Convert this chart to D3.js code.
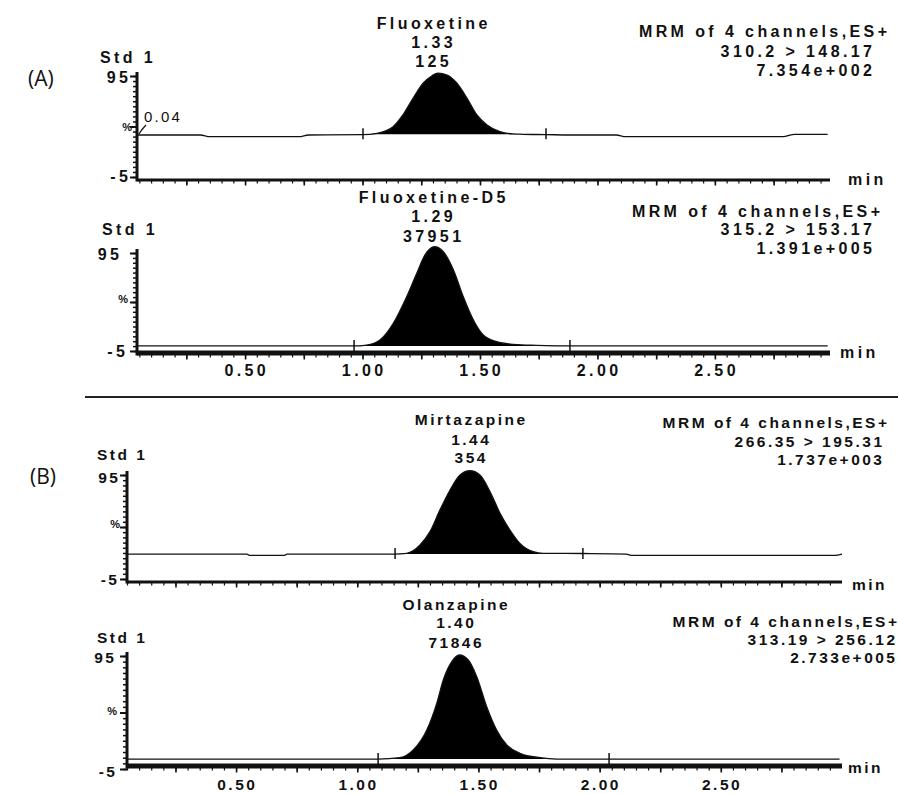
<!DOCTYPE html>
<html><head><meta charset="utf-8">
<script src="https://cdn.jsdelivr.net/npm/d3@7"></script>
<style>body{margin:0;background:#fff}svg{display:block}</style>
</head><body>
<svg id="c" width="898" height="794"></svg>
<script>
// ---------------- DATA ----------------
const compounds   = ["Fluoxetine", "Fluoxetine-D5", "Mirtazapine", "Olanzapine"];
const peakRT      = ["1.33", "1.29", "1.44", "1.40"];
const peakArea    = ["125", "37951", "354", "71846"];
const headerText  = "MRM of 4 channels,ES+";
const transitions = ["310.2 > 148.17", "315.2 > 153.17", "266.35 > 195.31", "313.19 > 256.12"];
const maxIntens   = ["7.354e+002", "1.391e+005", "1.737e+003", "2.733e+005"];
const sampleLabel = "Std 1";
const sectionLabels = ["(A)", "(B)"];
const xTickLabels = ["0.50", "1.00", "1.50", "2.00", "2.50"];
const yTickLabels = ["95", "%", "-5"];
const yTickValues = [95, 45, -5];
const xDomainA = [0.04, 2.99];
const xDomainB = [0.05, 3.00];
const yDomain  = [-5, 95];

// chromatogram traces (time in min, relative intensity %)
const fluoxTime = [0.04, 0.31, 0.35, 0.73, 0.77, 1.00, 1.062, 1.130, 1.172, 1.215, 1.258, 1.296, 1.321, 1.360, 1.402, 1.445, 1.487, 1.530, 1.585, 1.641, 1.683, 1.78, 1.88, 2.08, 2.12, 2.47, 2.50, 2.79, 2.84, 2.98];
const fluoxInt  = [36.6, 36.6, 34.9, 34.9, 36.6, 36.9, 38.3, 44.8, 56.4, 72.9, 87.8, 95.3, 97.7, 96.0, 87.8, 72.9, 56.4, 46.5, 39.9, 37.6, 37.3, 37.0, 36.6, 36.6, 34.9, 34.9, 34.9, 34.9, 37.3, 37.3];

const fluoxD5Time = [0.04, 0.96, 1.018, 1.074, 1.131, 1.188, 1.231, 1.266, 1.306, 1.344, 1.387, 1.429, 1.472, 1.514, 1.571, 1.642, 1.742, 1.90, 2.98];
const fluoxD5Int  = [0.2, 0.2, 1.1, 6.2, 23.3, 50.4, 74.3, 93.0, 101.4, 96.3, 77.7, 50.4, 26.6, 11.3, 4.5, 1.8, 0.8, 0.2, 0.2];

const mirtTime = [0.05, 0.545, 0.555, 0.70, 0.71, 1.156, 1.204, 1.259, 1.300, 1.341, 1.383, 1.424, 1.465, 1.506, 1.548, 1.589, 1.630, 1.671, 1.726, 1.768, 1.93, 2.11, 2.13, 2.97, 3.00];
const mirtInt  = [19.0, 19.0, 17.8, 17.8, 19.0, 19.0, 19.7, 27.7, 40.5, 61.3, 80.6, 95.0, 99.1, 95.0, 78.9, 58.2, 42.1, 29.3, 21.3, 19.7, 19.5, 19.0, 17.8, 17.8, 19.0];

const olanTime = [0.05, 1.086, 1.176, 1.231, 1.287, 1.328, 1.355, 1.390, 1.421, 1.458, 1.493, 1.534, 1.575, 1.617, 1.671, 1.754, 1.823, 2.99];
const olanInt  = [3.8, 3.8, 5.0, 11.8, 29.5, 53.1, 73.8, 90.0, 95.9, 91.5, 76.7, 50.1, 29.5, 16.2, 8.9, 5.0, 3.8, 3.8];

// integration limits (min) and integration baseline level (%)
const integStart = [1.002, 0.964, 1.156, 1.086];
const integEnd   = [1.781, 1.883, 1.931, 2.039];
const integBase  = [37.3, 0.2, 19.0, 3.8];
const startLabel = "0.04";

// ---------------- LAYOUT ----------------
const traces = [
  [fluoxTime, fluoxInt], [fluoxD5Time, fluoxD5Int], [mirtTime, mirtInt], [olanTime, olanInt]
];
const layout = [
  {dom: xDomainA, x0:137, x1:830, yTop:76,  yBot:177, axisY:180, axisW:3, titleX:432, titleY:[29,48,67],    mrmX:[887,872,872], mrmY:[37,57,76],    stdX:100, stdY:63,  lab:[[128,83],[132,131],[128,182]], minX:848, minY:185, xLabY:null, sec:0},
  {dom: xDomainA, x0:137, x1:830, yTop:253, yBot:351, axisY:353, axisW:5, titleX:432, titleY:[203,222,242], mrmX:[880,872,872], mrmY:[217,235,254], stdX:102, stdY:235, lab:[[119,260],[128,303],[125,357]], minX:840, minY:358, xLabY:376, sec:0},
  {dom: xDomainB, x0:127, x1:842, yTop:475, yBot:579, axisY:582, axisW:3, titleX:470, titleY:[425,445,463], mrmX:[887,882,882], mrmY:[428,447,465], stdX:97,  stdY:460, lab:[[118,483],[120,528],[117,585]], minX:852, minY:590, xLabY:null, sec:1},
  {dom: xDomainB, x0:127, x1:842, yTop:656, yBot:769, axisY:766, axisW:5, titleX:455, titleY:[610,628,648], mrmX:[897,895,895], mrmY:[627,645,663], stdX:97,  stdY:643, lab:[[114,663],[117,715],[115,777]], minX:848, minY:773, xLabY:790, sec:1}
];
const fontSec = [{size:16, ls:3.4}, {size:15.5, ls:2.5}];

const svg = d3.select("#c");
svg.append("rect").attr("width", 898).attr("height", 794).attr("fill", "#fff");

function txt(g, x, y, s, anchor, f, extra) {
  const shift = anchor === "end" ? f.ls : anchor === "middle" ? f.ls / 2 : 0;
  const t = g.append("text")
    .attr("x", x + shift).attr("y", y)
    .attr("text-anchor", anchor)
    .attr("font-family", "'Liberation Sans', Arial, sans-serif")
    .attr("font-weight", "bold")
    .attr("font-size", f.size)
    .attr("letter-spacing", f.ls)
    .attr("fill", "#111")
    .text(s);
  if (extra) extra(t);
  return t;
}

layout.forEach((L, i) => {
  const f = fontSec[L.sec];
  const g = svg.append("g");
  const x = d3.scaleLinear().domain(L.dom).range([L.x0, L.x1]);
  const y = d3.scaleLinear().domain(yDomain).range([L.yBot, L.yTop]);
  const pts = traces[i][0].map((t, k) => [t, traces[i][1][k]]);

  // filled peak (clipped to integration window)
  const clipId = "clip" + i;
  svg.append("clipPath").attr("id", clipId).append("rect")
    .attr("x", x(integStart[i])).attr("y", 0)
    .attr("width", x(integEnd[i]) - x(integStart[i])).attr("height", 794);
  const area = d3.area().x(d => x(d[0])).y0(y(integBase[i])).y1(d => y(d[1])).curve(d3.curveMonotoneX);
  g.append("path").attr("d", area(pts)).attr("fill", "#000").attr("clip-path", `url(#${clipId})`);

  // trace line
  const line = d3.line().x(d => x(d[0])).y(d => y(d[1])).curve(d3.curveMonotoneX);
  g.append("path").attr("d", line(pts)).attr("fill", "none").attr("stroke", "#111").attr("stroke-width", 1.3);

  // integration markers
  [integStart[i], integEnd[i]].forEach(t => {
    const yy = y(integBase[i]);
    g.append("line").attr("x1", x(t)).attr("x2", x(t)).attr("y1", yy - 6).attr("y2", yy + 5)
      .attr("stroke", "#111").attr("stroke-width", 1.5);
  });

  // y axis
  const yMinor = d3.range(yDomain[0], yDomain[1] + 1, 5);
  const ya = g.append("g").attr("transform", `translate(${L.x0},0)`)
    .call(d3.axisLeft(y).tickValues(yMinor).tickSize(4).tickFormat(""));
  ya.select(".domain").remove();
  ya.selectAll("line").attr("stroke", "#111").attr("stroke-width", 1.5);
  const yb = g.append("g").attr("transform", `translate(${L.x0},0)`)
    .call(d3.axisLeft(y).tickValues(yTickValues).tickSize(7).tickFormat(""));
  yb.select(".domain").remove();
  yb.selectAll("line").attr("stroke", "#111").attr("stroke-width", 2);
  g.append("line").attr("x1", L.x0).attr("x2", L.x0).attr("y1", L.yTop - 4).attr("y2", L.axisY + L.axisW / 2)
    .attr("stroke", "#111").attr("stroke-width", 3);

  // x axis
  const xMinor = d3.range(0.05, L.dom[1], 0.05).filter(v => v >= L.dom[0]);
  const xMajor = d3.range(0.25, L.dom[1], 0.25);
  const xa = g.append("g").attr("transform", `translate(0,${L.axisY})`)
    .call(d3.axisBottom(x).tickValues(xMinor).tickSize(L.axisW / 2 + 2).tickFormat(""));
  xa.select(".domain").remove();
  xa.selectAll("line").attr("stroke", "#111").attr("stroke-width", 1.2);
  const xb = g.append("g").attr("transform", `translate(0,${L.axisY})`)
    .call(d3.axisBottom(x).tickValues(xMajor).tickSize(L.axisW / 2 + 4).tickFormat(""));
  xb.select(".domain").remove();
  xb.selectAll("line").attr("stroke", "#111").attr("stroke-width", 1.6);
  g.append("line").attr("x1", L.x0).attr("x2", L.x1).attr("y1", L.axisY).attr("y2", L.axisY)
    .attr("stroke", "#111").attr("stroke-width", L.axisW);

  if (L.xLabY) {
    xTickLabels.forEach(s => txt(g, x(+s), L.xLabY, s, "middle", f));
  }

  // y labels
  yTickLabels.forEach((s, k) => {
    const fs = s === "%" ? {size: 11, ls: 0} : f;
    txt(g, L.lab[k][0], L.lab[k][1], s, "end", fs);
  });

  // sample label
  txt(g, L.stdX, L.stdY, sampleLabel, "start", f);

  // peak annotation
  [compounds[i], peakRT[i], peakArea[i]].forEach((s, k) => txt(g, L.titleX, L.titleY[k], s, "middle", f));

  // MRM header
  [headerText, transitions[i], maxIntens[i]].forEach((s, k) => txt(g, L.mrmX[k], L.mrmY[k], s, "end", f));

  // min label
  txt(g, L.minX, L.minY, "min", "start", f);

  if (i === 0) {
    txt(g, 144, 122, startLabel, "start", {size: 15, ls: 2.2}, t => t.attr("font-weight", "normal"));
    g.append("path").attr("d", `M${L.x0 + 2},${y(fluoxInt[0]) - 1} Q${L.x0 + 5},${y(fluoxInt[0]) - 6} ${L.x0 + 9},${y(fluoxInt[0]) - 10}`)
      .attr("fill", "none").attr("stroke", "#111").attr("stroke-width", 1.2);
  }
});

// separator between (A) and (B)
svg.append("line").attr("x1", 85).attr("x2", 898).attr("y1", 397).attr("y2", 397)
  .attr("stroke", "#222").attr("stroke-width", 2);

// section labels
[[28, 86], [30, 484]].forEach((p, k) => {
  svg.append("text").attr("x", p[0]).attr("y", p[1])
    .attr("font-family", "'Open Sans', 'Noto Sans', sans-serif")
    .attr("font-size", 21).attr("fill", "#111").text(sectionLabels[k]);
});
</script>
</body></html>
